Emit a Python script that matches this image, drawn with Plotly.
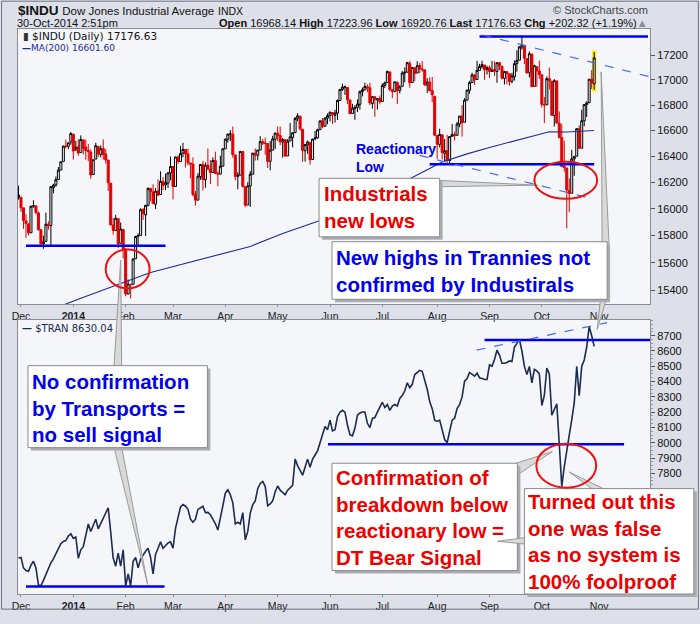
import plotly.graph_objects as go
import pandas as pd

# ---------------- data ----------------
HOLIDAYS = ["2013-12-25", "2014-01-01", "2014-01-20", "2014-02-17",
            "2014-04-18", "2014-05-26", "2014-07-04", "2014-09-01"]
TICK_MONTHS = ["2013-12", "2014-01", "2014-02", "2014-03", "2014-04", "2014-05",
               "2014-06", "2014-07", "2014-08", "2014-09", "2014-10", "2014-11"]
TICK_TEXT = ["Dec", "<b>2014</b>", "Feb", "Mar", "Apr", "May",
             "Jun", "Jul", "Aug", "Sep", "Oct", "Nov"]

# $INDU daily OHLC, 29-Nov-2013 .. 30-Oct-2014 (one row per month)
indu_open = [16105,
    16087, 16008, 15910, 15885, 15821, 16020, 16023, 15970, 15843, 15740, 15758, 15885, 15875, 16160, 16180, 16222, 16295, 16361, 16479, 16477, 16512,
    16572, 16456, 16474, 16429, 16527, 16472, 16445, 16434, 16261, 16379, 16477, 16414, 16461, 16419, 16371, 16195, 15879, 15838, 15927, 15743, 15845,
    15698, 15372, 15443, 15443, 15630, 15795, 15802, 15995, 15955, 16027, 16155, 16128, 16035, 16136, 16108, 16208, 16181, 16195, 16273,
    16321, 16169, 16395, 16360, 16425, 16453, 16419, 16349, 16341, 16108, 16066, 16245, 16336, 16221, 16332, 16303, 16276, 16367, 16266, 16264, 16324,
    16458, 16533, 16572, 16572, 16411, 16246, 16256, 16437, 16168, 16029, 16174, 16263, 16424, 16408, 16449, 16513, 16502, 16499, 16362, 16448, 16532,
    16580, 16561, 16510, 16529, 16403, 16519, 16547, 16584, 16696, 16713, 16611, 16443, 16489, 16508, 16376, 16536, 16543, 16607, 16677, 16634, 16698,
    16718, 16742, 16720, 16737, 16836, 16924, 16943, 16939, 16841, 16734, 16774, 16782, 16806, 16908, 16921, 16945, 16937, 16813, 16866, 16842, 16852,
    16828, 16956, 16979, 17064, 16922, 16907, 16982, 16916, 16949, 17055, 17062, 17133, 16979, 17097, 17055, 17116, 17088, 17081, 16959, 16983, 16916, 16870,
    16561, 16493, 16567, 16423, 16443, 16368, 16555, 16569, 16563, 16652, 16715, 16665, 16839, 16918, 16979, 17040, 17003, 17076, 17107, 17120, 17082,
    17098, 17068, 17083, 17068, 17138, 17110, 17012, 17066, 17049, 16989, 17026, 17131, 17158, 17266, 17278, 17170, 17057, 17208, 16948, 17106, 17071,
    17041, 16804, 16802, 17010, 16990, 16718, 16992, 16658, 16545, 16323, 16311, 16141, 16118, 16380, 16401, 16614, 16463, 16677, 16805, 16819, 17006, 16968]
indu_high = [16175,
    16093, 16008, 15960, 15894, 16024, 16065, 16023, 15980, 15849, 15800, 15972, 15906, 16168, 16190, 16245, 16318, 16359, 16483, 16529, 16505, 16588,
    16573, 16519, 16532, 16562, 16528, 16530, 16495, 16453, 16374, 16505, 16477, 16484, 16531, 16456, 16373, 16195, 15931, 15956, 15927, 15898, 15845,
    15708, 15478, 15443, 15632, 15798, 15817, 16005, 16006, 16027, 16164, 16155, 16186, 16158, 16224, 16285, 16242, 16267, 16276, 16398,
    16321, 16399, 16406, 16480, 16505, 16453, 16461, 16349, 16392, 16135, 16271, 16339, 16365, 16353, 16461, 16373, 16392, 16436, 16285, 16405, 16464,
    16537, 16574, 16604, 16631, 16411, 16279, 16438, 16437, 16168, 16202, 16287, 16426, 16460, 16449, 16556, 16535, 16546, 16499, 16519, 16559, 16581,
    16632, 16631, 16541, 16529, 16534, 16660, 16584, 16706, 16736, 16713, 16611, 16491, 16523, 16508, 16536, 16597, 16614, 16676, 16697, 16704, 16734,
    16748, 16742, 16763, 16845, 16924, 16970, 16954, 16939, 16841, 16810, 16800, 16845, 16916, 16939, 16978, 16964, 16977, 16870, 16866, 16851, 16875,
    16973, 16987, 17074, 17064, 16922, 16985, 16982, 16958, 17071, 17100, 17145, 17151, 17100, 17097, 17150, 17136, 17151, 17081, 17014, 17021, 17024, 16870,
    16561, 16614, 16567, 16534, 16568, 16554, 16651, 16592, 16668, 16715, 16800, 16855, 16919, 16993, 17057, 17045, 17153, 17129, 17154, 17120, 17113,
    17116, 17153, 17150, 17138, 17139, 17110, 17073, 17066, 17049, 17057, 17156, 17239, 17273, 17350, 17279, 17170, 17230, 17208, 17122, 17106, 17155,
    17041, 16864, 17027, 17099, 16990, 17006, 16992, 16750, 16650, 16520, 16311, 16231, 16450, 16400, 16615, 16640, 16763, 16805, 16830, 17006, 17078, 17224]
indu_low = [16070,
    15977, 15851, 15783, 15803, 15821, 16008, 15960, 15838, 15732, 15703, 15758, 15844, 15730, 16117, 16168, 16222, 16295, 16361, 16461, 16455, 16490,
    16375, 16441, 16405, 16429, 16416, 16374, 16363, 16228, 16261, 16379, 16395, 16393, 16374, 16345, 16136, 15879, 15806, 15838, 15708, 15743, 15632,
    15356, 15372, 15341, 15443, 15630, 15729, 15802, 15918, 15798, 16019, 16057, 16037, 16000, 16103, 16108, 16142, 16142, 16158, 16216,
    16071, 16169, 16343, 16360, 16393, 16314, 16331, 16231, 16094, 16024, 16066, 16220, 16139, 16160, 16297, 16187, 16276, 16267, 16170, 16264, 16324,
    16458, 16506, 16519, 16389, 16216, 16148, 16256, 16160, 16015, 16029, 16015, 16263, 16368, 16369, 16449, 16488, 16412, 16310, 16293, 16448, 16458,
    16519, 16487, 16390, 16400, 16403, 16519, 16469, 16584, 16673, 16599, 16358, 16360, 16419, 16336, 16376, 16524, 16537, 16607, 16618, 16634, 16650,
    16671, 16652, 16662, 16682, 16836, 16912, 16880, 16809, 16725, 16734, 16684, 16745, 16764, 16869, 16921, 16901, 16800, 16772, 16708, 16764, 16806,
    16828, 16935, 16979, 16910, 16855, 16907, 16807, 16892, 16949, 16981, 17062, 16937, 16979, 16990, 17055, 17054, 17065, 16950, 16897, 16912, 16824, 16563,
    16380, 16469, 16375, 16360, 16333, 16345, 16555, 16523, 16563, 16626, 16553, 16665, 16839, 16890, 16979, 16961, 17003, 17074, 17090, 17000, 17043,
    17017, 17066, 17031, 16977, 17078, 17003, 16963, 16965, 16953, 16973, 16996, 17066, 17158, 17244, 17127, 17051, 17020, 16946, 16948, 16945, 17008,
    16782, 16658, 16802, 16924, 16716, 16632, 16652, 16543, 16321, 16283, 15855, 15977, 16118, 16251, 16401, 16460, 16463, 16634, 16706, 16819, 16928, 16921]
indu_close = [16086,
    16008, 15914, 15889, 15821, 16020, 16025, 15973, 15844, 15739, 15755, 15885, 15875, 16168, 16179, 16221, 16294, 16358, 16479, 16478, 16505, 16577,
    16441, 16470, 16425, 16531, 16462, 16444, 16437, 16257, 16374, 16482, 16418, 16459, 16414, 16373, 16198, 15879, 15838, 15929, 15739, 15849, 15699,
    15373, 15445, 15440, 15628, 15794, 15801, 15994, 15964, 16027, 16154, 16130, 16040, 16133, 16103, 16208, 16179, 16198, 16273, 16322,
    16168, 16395, 16361, 16422, 16453, 16418, 16351, 16341, 16109, 16066, 16247, 16337, 16223, 16332, 16303, 16276, 16368, 16268, 16264, 16324, 16458,
    16533, 16573, 16573, 16413, 16246, 16256, 16438, 16171, 16027, 16174, 16263, 16425, 16409, 16449, 16514, 16502, 16501, 16361, 16448, 16535, 16581,
    16559, 16513, 16530, 16402, 16518, 16551, 16583, 16695, 16715, 16613, 16447, 16491, 16511, 16374, 16533, 16543, 16606, 16676, 16633, 16698, 16717,
    16744, 16723, 16737, 16836, 16924, 16943, 16945, 16843, 16734, 16776, 16781, 16808, 16906, 16921, 16947, 16937, 16818, 16867, 16846, 16851, 16827,
    16956, 16976, 17068, 16924, 16906, 16985, 16915, 16944, 17055, 17061, 17138, 16977, 17100, 17052, 17114, 17087, 17083, 16961, 16983, 16913, 16881, 16563,
    16493, 16570, 16430, 16443, 16368, 16554, 16570, 16561, 16651, 16713, 16663, 16839, 16919, 16979, 17040, 17001, 17076, 17107, 17123, 17080, 17098,
    17068, 17079, 17069, 17138, 17111, 17014, 17068, 17049, 16988, 17032, 17131, 17157, 17266, 17280, 17173, 17056, 17211, 16946, 17114, 17071, 17043,
    16805, 16801, 17010, 16992, 16720, 16994, 16660, 16544, 16321, 16315, 16142, 16117, 16380, 16400, 16615, 16462, 16677, 16805, 16818, 17006, 16975, 17177]

# $TRAN daily close, same days
tran_close = [7246,
    7250, 7182, 7165, 7160, 7200, 7225, 7182, 7070, 7065, 7100, 7142, 7180, 7215, 7240, 7270, 7300, 7340, 7355, 7360, 7390, 7405,
    7375, 7384, 7244, 7300, 7320, 7397, 7469, 7420, 7460, 7500, 7437, 7470, 7512, 7540, 7575, 7416, 7246, 7193, 7278, 7193, 7300,
    7065, 7142, 7065, 7225, 7250, 7182, 7240, 7270, 7290, 7310, 7250, 7142, 7270, 7310, 7352, 7310, 7330, 7345, 7352,
    7310, 7440, 7510, 7580, 7596, 7585, 7565, 7500, 7480, 7500, 7564, 7575, 7585, 7543, 7545, 7530, 7500, 7470, 7429, 7520, 7588,
    7671, 7692, 7660, 7607, 7469, 7480, 7469, 7543, 7365, 7420, 7540, 7596, 7620, 7700, 7734, 7747, 7715, 7588, 7600, 7620, 7680,
    7717, 7690, 7675, 7660, 7690, 7705, 7722, 7893, 7849, 7820, 7788, 7840, 7893, 7840, 7893, 7920, 7947, 8000, 8050, 8106, 8085,
    8148, 8078, 8085, 8170, 8200, 8212, 8200, 8116, 8053, 8045, 8096, 8180, 8195, 8201, 8201, 8127, 8099, 8159, 8165, 8200, 8230,
    8265, 8230, 8250, 8212, 8240, 8250, 8240, 8290, 8308, 8340, 8392, 8360, 8382, 8446, 8460, 8473, 8467, 8414, 8350, 8270, 8223, 8148,
    8140, 8148, 8074, 8021, 8000, 8066, 8148, 8160, 8223, 8250, 8300, 8403, 8420, 8460, 8450, 8435, 8455, 8425, 8420, 8414, 8414,
    8510, 8500, 8545, 8605, 8573, 8520, 8520, 8525, 8535, 8531, 8626, 8650, 8675, 8600, 8499, 8446, 8499, 8392, 8480, 8470, 8450,
    8244, 8310, 8488, 8450, 8180, 8220, 8255, 7989, 7715, 7843, 7957, 8050, 8150, 8260, 8499, 8308, 8499, 8541, 8626, 8760, 8700, 8630]

# 200-day moving average of $INDU, read at selected trading-day indices
ma200_day = [0, 25, 53, 73, 93, 106, 121, 139, 158, 170, 180, 189, 200, 208, 213, 220, 231]
ma200_val = [15170, 15341, 15529, 15624, 15720, 15816, 15913, 16070, 16237, 16356,
             16419, 16469, 16527, 16570, 16591, 16589, 16601]

# hand-drawn support / resistance levels (trading-day index, value)
indu_levels = [(3, 59, 15725), (165, 231, 16340), (185, 252.6, 17350)]
indu_trends = [((186.2, 17363), (253.4, 17025)), ((161, 16407), (231, 16073))]
tran_levels = [(3, 58.6, 7060), (124.2, 243, 7990), (187, 254, 8672)]
tran_trends = [((183.8, 8606), (236.2, 8785))]

INDU_TICKS = [15400, 15600, 15800, 16000, 16200, 16400, 16600, 16800, 17000, 17200]
TRAN_TICKS = list(range(7100, 8800, 100))
TRAN_LABELLED_FROM = 7800   # lower labels sit under the callout box in the reference

# ---------------- layout helpers ----------------
W, H = 700, 624
ML, MR, MT, MB = 17, 49, 29, 16
PW, PH = W - ML - MR, H - MT - MB


def px(x):
    return (x - ML) / PW


def py(y):
    return (H - MB - y) / PH


FONT = "Liberation Sans, Arial, sans-serif"
PLOT_BG = "#f5f6fa"
PAPER_BG = "#dde0e9"
BLUE = "#0000ee"
RED = "#ee0000"
CANDLE_RED = "#e00000"
AXIS_C = "#8a8d95"

days = pd.bdate_range("2013-11-29", "2014-11-03", freq="C", holidays=HOLIDAYS)
ym = [d.strftime("%Y-%m") for d in days]
tick_pos = [ym.index(m) for m in TICK_MONTHS]
xs = list(range(len(indu_close)))

fig = go.Figure()

# MA(200)
fig.add_trace(go.Scatter(x=ma200_day, y=ma200_val, mode="lines",
                         line=dict(color="#1f2a9a", width=1.1),
                         xaxis="x", yaxis="y", hoverinfo="skip", showlegend=False))

# candles: black when close >= previous close, red otherwise
blk = [i for i in xs if i == 0 or indu_close[i] >= indu_close[i - 1]]
red = [i for i in xs if i not in blk]
for idx, col in ((blk, "black"), (red, CANDLE_RED)):
    fig.add_trace(go.Candlestick(
        x=[xs[i] for i in idx],
        open=[indu_open[i] for i in idx], high=[indu_high[i] for i in idx],
        low=[indu_low[i] for i in idx], close=[indu_close[i] for i in idx],
        increasing=dict(line=dict(color=col, width=1), fillcolor=PLOT_BG),
        decreasing=dict(line=dict(color=col, width=1), fillcolor=col),
        whiskerwidth=0, xaxis="x", yaxis="y", hoverinfo="skip", showlegend=False))

# $TRAN line
fig.add_trace(go.Scatter(x=xs, y=tran_close, mode="lines",
                         line=dict(color="#1c2b4f", width=1.6),
                         xaxis="x2", yaxis="y2", hoverinfo="skip", showlegend=False))

shapes = []
# last-bar highlight
shapes.append(dict(type="rect", xref="x", yref="y", x0=xs[-1] - 0.9, x1=xs[-1] + 0.9,
                   y0=indu_low[-1] - 15, y1=indu_high[-1] + 15,
                   fillcolor="#ffee22", line=dict(width=0), layer="below"))
for x0, x1, v in indu_levels:
    shapes.append(dict(type="line", xref="x", yref="y", x0=x0, x1=x1, y0=v, y1=v,
                       line=dict(color=BLUE, width=2.5), layer="above"))
for (x0, y0), (x1, y1) in indu_trends:
    shapes.append(dict(type="line", xref="x", yref="y", x0=x0, x1=x1, y0=y0, y1=y1,
                       line=dict(color="#4466ff", width=1.2, dash="dash"), layer="above"))
for x0, x1, v in tran_levels:
    shapes.append(dict(type="line", xref="x2", yref="y2", x0=x0, x1=x1, y0=v, y1=v,
                       line=dict(color=BLUE, width=2.5), layer="above"))
for (x0, y0), (x1, y1) in tran_trends:
    shapes.append(dict(type="line", xref="x2", yref="y2", x0=x0, x1=x1, y0=y0, y1=y1,
                       line=dict(color="#4466ff", width=1.2, dash="dash"), layer="above"))


def wedge(pts):
    d = "M " + " L ".join(f"{px(x):.5f},{py(y):.5f}" for x, y in pts) + " Z"
    return dict(type="path", xref="paper", yref="paper", path=d,
                fillcolor="#d9d9d9", line=dict(color="#9a9a9a", width=1), layer="above")


def box(x0, y0, x1, y1):
    sh = dict(type="rect", xref="paper", yref="paper",
              x0=px(x0 + 3), x1=px(x1 + 3), y0=py(y1 + 3), y1=py(y0 + 3),
              fillcolor="#a9acb3", line=dict(width=0), layer="above")
    bx = dict(type="rect", xref="paper", yref="paper",
              x0=px(x0), x1=px(x1), y0=py(y1), y1=py(y0),
              fillcolor="white", line=dict(color="#8a8a8a", width=1), layer="above")
    return [sh, bx]


def ellipse(x0, y0, x1, y1):
    return dict(type="circle", xref="paper", yref="paper",
                x0=px(x0), x1=px(x1), y0=py(y1), y1=py(y0),
                line=dict(color="#ee1111", width=2), layer="above")


# callout pointers
shapes += [wedge([(415, 183), (415, 191), (538, 189)]),
           wedge([(602, 73), (603, 252), (610, 252)]),
           wedge([(602, 300), (609, 300), (598, 337)]),
           wedge([(120, 266), (113, 380), (121, 380)]),
           wedge([(112, 452), (120, 452), (147, 598)]),
           wedge([(505, 478), (518, 486), (553, 462)]),
           wedge([(570, 483), (598, 504), (612, 504)])]
# boxes
shapes += box(319, 182, 440, 242)
shapes += box(332, 247, 608, 306)
shapes += box(27, 374, 207, 458)
shapes += box(332, 474, 518, 584)
shapes.append(wedge([(527, 550), (527, 557), (498, 554)]))
shapes += box(525, 500, 695, 608)
# circles
shapes += [ellipse(105, 255, 149, 295), ellipse(535, 165, 598, 203), ellipse(537, 454, 597, 499)]
# outer frame
shapes.append(dict(type="rect", xref="paper", yref="paper", x0=px(0.5), x1=px(699.5),
                   y0=py(623.5), y1=py(0.5), line=dict(color="#6f737b", width=1),
                   fillcolor="rgba(0,0,0,0)", layer="above"))

ann = []


def txt(x, y, text, size, color="black", anchor="left", bold=False, family=FONT):
    if bold:
        text = "<b>" + text.replace("<br>", "</b><br><b>") + "</b>"
    ann.append(dict(xref="paper", yref="paper", x=px(x), y=py(y), text=text,
                    showarrow=False, xanchor=anchor, yanchor="middle", align=anchor,
                    font=dict(family=family, size=size, color=color)))


# header
txt(15, 10, "<b>$INDU</b> <span style='font-size:11.5px'>Dow Jones Industrial Average</span> "
    "<span style='font-size:10.5px'>INDX</span>", 13.5, "#111")
txt(651, 10, "© StockCharts.com", 11, "#444", anchor="right")
txt(14, 23, "30-Oct-2014 2:51pm", 11, "#111")
txt(651, 23, "<b>Open</b> 16968.14 <b>High</b> 17223.96 <b>Low</b> 16920.76 "
    "<b>Last</b> 17176.63 <b>Chg</b> +202.32 (+1.19%)<span style='color:#8a8d95'>▲</span>",
    11, "#111", anchor="right")
# in-panel legends
DV = "DejaVu Sans, Verdana, sans-serif"
txt(20, 36.5, "<span style='color:#333'>▮</span> $INDU (Daily) 17176.63", 10.5, "#111", family=DV)
txt(19, 48, "<span style='color:#1f2a9a'><b>—</b></span>MA(200) 16601.60", 9, "#1f2a9a", family=DV)
txt(19, 335.5, "<b>—</b> $TRAN 8630.04", 10, "#1c2b4f", family=DV)
# commentary
txt(354, 161.3, "Reactionary<br>Low", 14, BLUE, bold=True)
txt(321.5, 211.5, "Industrials<br>new lows", 20.5, RED, bold=True)
txt(334, 277, "New highs in Trannies not<br>confirmed by Industirals", 20.5, BLUE, bold=True)
txt(29, 417, "No confirmation<br>by Transports =<br>no sell signal", 20.5, BLUE, bold=True)
txt(334, 529.5, "Confirmation of<br>breakdown below<br>reactionary low =<br>DT Bear Signal",
    20.5, RED, bold=True)
txt(527, 554.7, "Turned out this<br>one was false<br>as no system is<br>100% foolproof",
    20.5, RED, bold=True)

xaxis_common = dict(range=[-0.2, 253.4], tickmode="array", tickvals=tick_pos, ticktext=TICK_TEXT,
                    showgrid=False, zeroline=False, showline=True, mirror=True,
                    linecolor=AXIS_C, linewidth=1, ticks="outside", ticklen=2, tickcolor=AXIS_C,
                    tickfont=dict(family=FONT, size=10.5, color="#222"), fixedrange=True)
yaxis_common = dict(side="right", showgrid=False, zeroline=False, showline=True, mirror=True,
                    linecolor=AXIS_C, linewidth=1, ticks="outside", ticklen=4, tickcolor="#555",
                    tickfont=dict(family=FONT, size=11, color="#111"), fixedrange=True)

fig.update_layout(
    width=W, height=H, autosize=False,
    margin=dict(l=ML, r=MR, t=MT, b=MB, pad=0),
    paper_bgcolor=PAPER_BG, plot_bgcolor=PLOT_BG,
    boxgap=0.2, boxgroupgap=0,
    xaxis=dict(xaxis_common, anchor="y", domain=[0, 1], rangeslider=dict(visible=False)),
    yaxis=dict(yaxis_common, anchor="x", domain=[py(311), 1], type="log",
               range=[4.184666, 4.240841], tickmode="array", tickvals=INDU_TICKS,
               ticktext=[str(v) for v in INDU_TICKS]),
    xaxis2=dict(xaxis_common, anchor="y2", domain=[0, 1], rangeslider=dict(visible=False)),
    yaxis2=dict(yaxis_common, anchor="x2", domain=[0, py(327)], range=[7011, 8804],
                tickmode="array", tickvals=TRAN_TICKS,
                ticktext=[str(v) if v >= TRAN_LABELLED_FROM else "" for v in TRAN_TICKS],
                minor=dict(ticks="outside", ticklen=2, dtick=25, tickcolor="#999")),
    shapes=shapes, annotations=ann, showlegend=False,
)

fig.write_html("out.html")
